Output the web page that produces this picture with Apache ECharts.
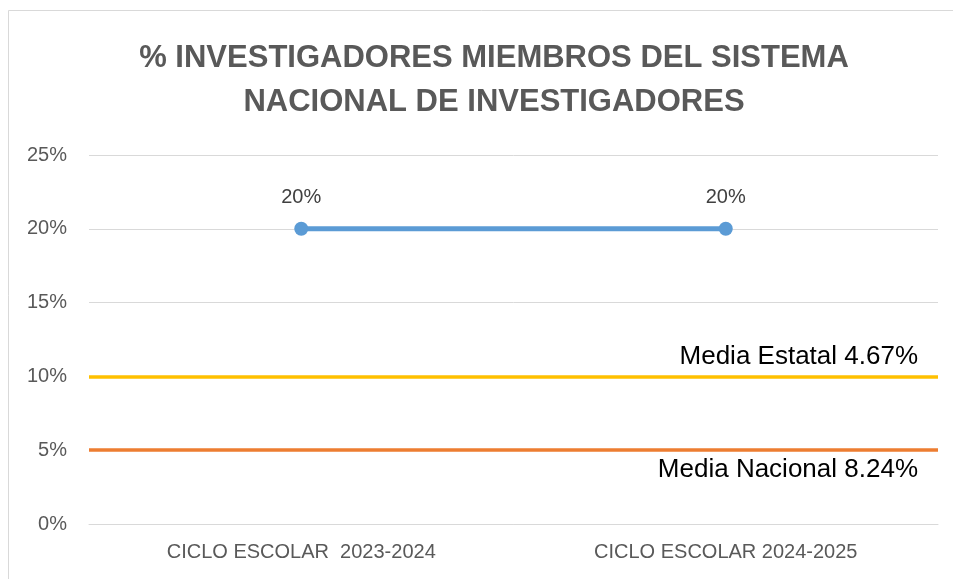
<!DOCTYPE html>
<html>
<head>
<meta charset="utf-8">
<script src="https://cdn.jsdelivr.net/npm/echarts@6/dist/echarts.min.js"></script>
<style>html,body{margin:0;padding:0;background:#fff}#c{width:953px;height:579px}</style>
</head>
<body>
<div id="c"></div>
<script>
const titleText = "% INVESTIGADORES MIEMBROS DEL SISTEMA\nNACIONAL DE INVESTIGADORES";
const categories = ["CICLO ESCOLAR  2023-2024", "CICLO ESCOLAR 2024-2025"];
const investigadores = [20, 20];
const yTicks = [0, 5, 10, 15, 20, 25];
const mediaEstatal = { value: 10, label: "Media Estatal 4.67%" };
const mediaNacional = { value: 5, label: "Media Nacional 8.24%" };

const FONT = "'Liberation Sans', Arial, sans-serif";
const chart = echarts.init(document.getElementById('c'), null, { renderer: 'canvas' });
chart.setOption({
  backgroundColor: '#ffffff',
  animation: false,
  graphic: [{
    type: 'rect', silent: true, z: -1,
    shape: { x: 8.5, y: 10.5, width: 960, height: 600 },
    style: { fill: 'none', stroke: '#d9d9d9', lineWidth: 1 }
  }],
  title: {
    text: titleText,
    left: 489, top: 31, textAlign: 'center',
    textStyle: { fontFamily: FONT, fontSize: 31, fontWeight: 'bold', color: '#595959', lineHeight: 44 }
  },
  grid: { left: 89, right: 15, top: 155, bottom: 55 },
  xAxis: {
    type: 'category', data: categories, boundaryGap: true,
    axisLine: { show: true, lineStyle: { color: '#d9d9d9', width: 1 } },
    axisTick: { show: false },
    axisLabel: { fontFamily: FONT, fontSize: 20, color: '#595959', margin: 18 }
  },
  yAxis: {
    type: 'value', min: yTicks[0], max: yTicks[yTicks.length - 1], interval: 5,
    axisLine: { show: false }, axisTick: { show: false },
    splitLine: { lineStyle: { color: '#d9d9d9', width: 1 } },
    axisLabel: { fontFamily: FONT, fontSize: 20, color: '#595959', margin: 22, formatter: v => v + '%' }
  },
  series: [{
    type: 'line', data: investigadores,
    symbol: 'circle', symbolSize: 14,
    lineStyle: { color: '#5B9BD5', width: 5 },
    itemStyle: { color: '#5B9BD5' },
    label: { show: true, position: 'top', distance: 14, fontFamily: FONT, fontSize: 20, color: '#404040', formatter: p => p.value + '%' },
    markLine: {
      silent: true, symbol: 'none',
      data: [
        { yAxis: mediaEstatal.value, lineStyle: { color: '#FFC000', width: 3.5, type: 'solid' },
          label: { show: true, position: 'insideEndTop', formatter: mediaEstatal.label, fontFamily: FONT, fontSize: 26, color: '#000', distance: [20, 7] } },
        { yAxis: mediaNacional.value, lineStyle: { color: '#ED7D31', width: 3.5, type: 'solid' },
          label: { show: true, position: 'insideEndBottom', formatter: mediaNacional.label, fontFamily: FONT, fontSize: 26, color: '#000', distance: [20, 7] } }
      ]
    }
  }]
});
</script>
</body>
</html>
